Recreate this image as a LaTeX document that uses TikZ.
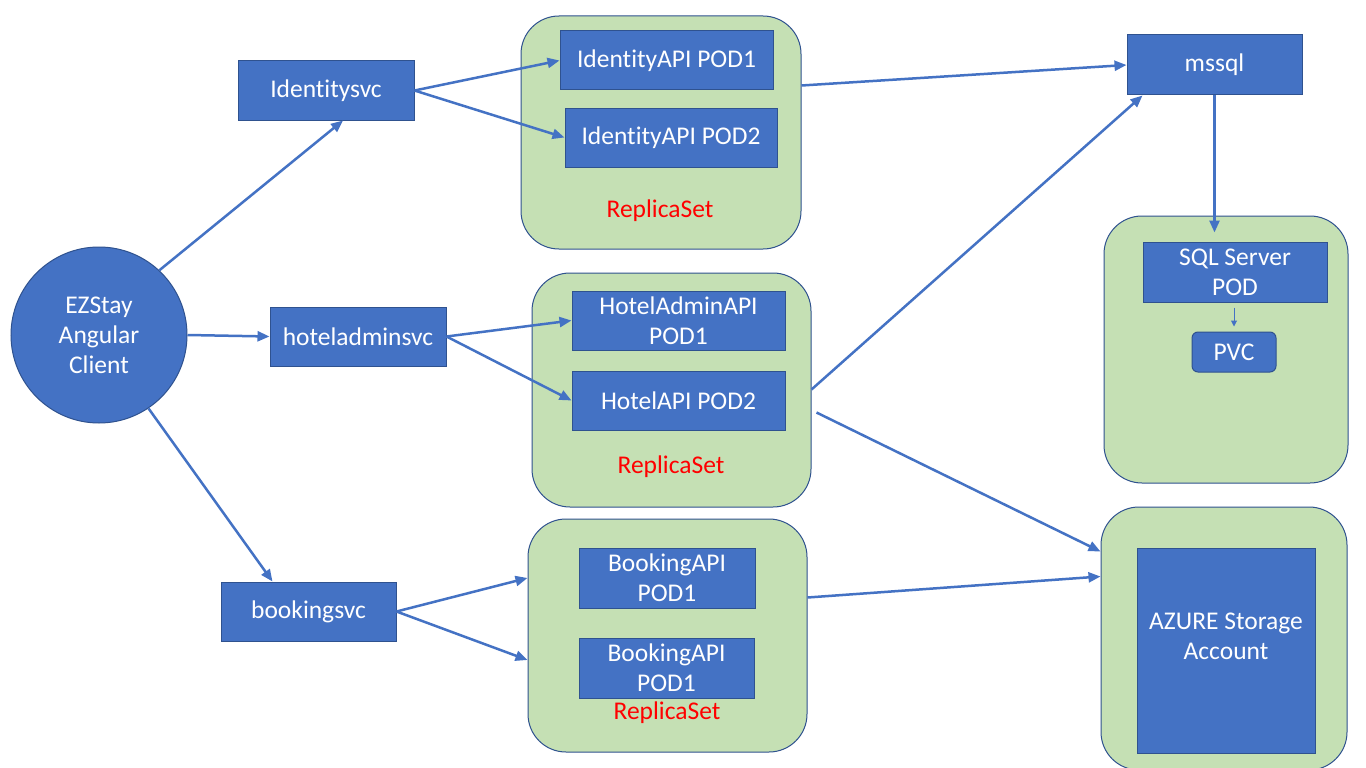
\documentclass[tikz,border=0pt]{standalone}
\usepackage{fontspec}
\setmainfont{Carlito}[Ligatures={TeX,NoCommon}]
\usepackage{xcolor}
\usetikzlibrary{arrows.meta,calc}

\definecolor{boxblue}{HTML}{4472C4}
\definecolor{edgeblue}{HTML}{2F528F}
\definecolor{rsgreen}{HTML}{C5E0B4}

\tikzset{
  blk/.style={draw=edgeblue,line width=1pt,fill=boxblue,text=white,inner sep=0pt,
    align=center,font=\fontsize{25.5pt}{30pt}\selectfont},
  rset/.style={draw=edgeblue,line width=1pt,fill=rsgreen,rounded corners=38pt,inner sep=0pt},
  rstext/.style={text=red,font=\fontsize{25.5pt}{30pt}\selectfont},
  conn/.style={draw=boxblue,line width=2.5pt,-{Triangle[length=12pt,width=10pt]}},
  thinconn/.style={draw=boxblue,line width=1pt,-{Triangle[length=6pt,width=6pt]}}
}

\begin{document}
\begin{tikzpicture}[x=1pt,y=-1pt]
\useasboundingbox[fill=white] (0,0) rectangle (1366,768);

% replica sets and storage
\node (rs1) at (661,132.5) [rset,minimum width=280pt,minimum height=233pt] {};
\node (rs2) at (671.5,390) [rset,minimum width=279pt,minimum height=234pt] {};
\node (rs3) at (667.5,635.5) [rset,minimum width=279pt,minimum height=233pt] {};
\node (sqlbox) at (1226,349.5) [rset,minimum width=244pt,minimum height=267pt] {};
\node (azbox) at (1224,638.5) [rset,minimum width=246pt,minimum height=263pt] {};

% client and services
\node (client) at (99,335) [blk,circle,minimum size=176pt] {EZStay\\Angular\\Client};
\node (idsvc) at (326,90.5) [blk,minimum width=176pt,minimum height=59pt] {Identitysvc};
\node (hsvc) at (358,336.5) [blk,minimum width=176pt,minimum height=59pt] {hoteladminsvc};
\node (bsvc) at (308.5,611.5) [blk,minimum width=175pt,minimum height=59pt] {bookingsvc};

% pods
\node (idpod1) at (666.5,60.5) [blk,minimum width=213pt,minimum height=59pt] {IdentityAPI POD1};
\node (idpod2) at (671,137.5) [blk,minimum width=212pt,minimum height=59pt] {IdentityAPI POD2};
\node (hpod1) at (678.5,320.5) [blk,minimum width=213pt,minimum height=59pt] {HotelAdminAPI\\POD1};
\node (hpod2) at (678.5,400.5) [blk,minimum width=213pt,minimum height=59pt] {HotelAPI POD2};
\node (bpod1) at (667,578) [blk,minimum width=176pt,minimum height=60pt] {BookingAPI\\POD1};
\node (bpod2) at (666.5,668) [blk,minimum width=175pt,minimum height=60pt] {BookingAPI\\POD1};

\node (rs1lbl) at (660,211) [rstext] {ReplicaSet};
\node (rs2lbl) at (671,467) [rstext] {ReplicaSet};
\node (rs3lbl) at (667,713) [rstext] {ReplicaSet};

% database and storage
\node (mssql) at (1214.5,65) [blk,minimum width=175pt,minimum height=60pt] {mssql};
\node (sqlpod) at (1235,272) [blk,minimum width=184pt,minimum height=60pt] {SQL Server\\POD};
\node (pvc) at (1234,352) [blk,rounded corners=6pt,minimum width=84pt,minimum height=40pt] {PVC};
\node (azure) at (1226,650.5) [blk,minimum width=178pt,minimum height=205pt] {};
\node (aztext) at (1226,636) [text=white,align=center,font=\fontsize{25.5pt}{30pt}\selectfont] {AZURE Storage\\Account};

% connectors
\draw[conn] (client.47) -- ([xshift=17pt]idsvc.south);
\draw[conn] (client.east) -- (hsvc.west);
\draw[conn] (client.-56) -- ([xshift=-36pt]bsvc.north);
\draw[conn] (idsvc.east) -- (idpod1.west);
\draw[conn] (idsvc.east) -- (idpod2.west);
\draw[conn] (hsvc.east) -- (hpod1.west);
\draw[conn] (hsvc.east) -- (hpod2.west);
\draw[conn] (bsvc.east) -- (rs3.west |- bpod1.west);
\draw[conn] (bsvc.east) -- ([yshift=8pt]rs3.west |- bpod2.west);
\draw[conn] ([yshift=5pt]rs1.east |- idpod1.south) -- (mssql.west);
\draw[conn] ([yshift=11pt]rs2.east |- hpod2.west) -- ([xshift=16pt]mssql.south west);
\draw[conn] ([xshift=5pt,yshift=-12pt]rs2.east |- hpod2.west) -- ([yshift=-45pt]azbox.north west);
\draw[conn] ([yshift=38pt]rs3.east) -- ([yshift=-70pt]azbox.north west);
\draw[conn] (mssql.south) -- ([yshift=9pt,xshift=-20.5pt]sqlpod.north);
\draw[thinconn,shorten <=5pt,shorten >=5pt] (sqlpod.south -| pvc.north) -- (pvc.north);
\end{tikzpicture}
\end{document}
